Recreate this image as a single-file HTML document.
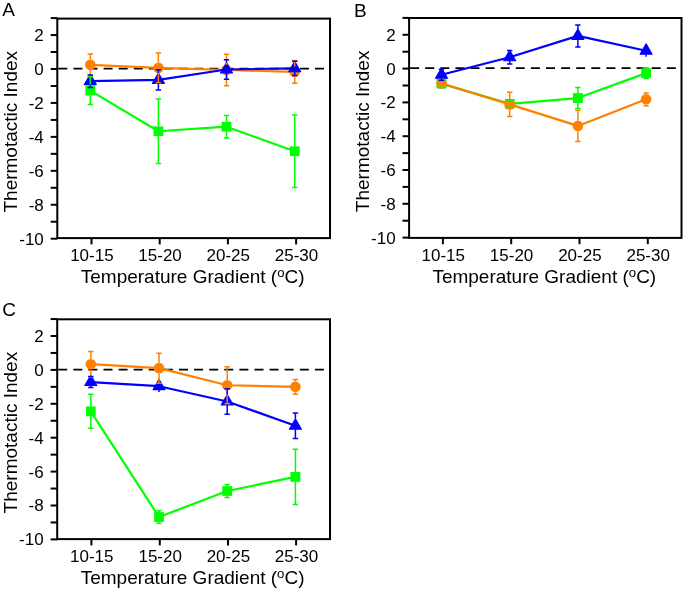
<!DOCTYPE html>
<html><head><meta charset="utf-8"><title>Thermotactic Index</title>
<style>
html,body{margin:0;padding:0;background:#fff;}
body{width:685px;height:591px;overflow:hidden;}
svg{display:block;font-family:"Liberation Sans",sans-serif;will-change:transform;}
</style></head>
<body>
<svg width="685" height="591" viewBox="0 0 685 591">
<rect width="685" height="591" fill="#fff"/>
<text x="2.3" y="16" font-size="19">A</text>
<line x1="58.3" y1="68.7" x2="329" y2="68.7" stroke="#000" stroke-width="1.8" stroke-dasharray="9 6.1"/>
<rect x="57.3" y="18.6" width="272.7" height="219.5" fill="none" stroke="#000" stroke-width="2.0"/>
<line x1="50.7" y1="18.09" x2="57.3" y2="18.09" stroke="#000" stroke-width="2.0"/>
<line x1="50.7" y1="35.06" x2="57.3" y2="35.06" stroke="#000" stroke-width="2.0"/>
<text x="43.8" y="40.96" font-size="17" text-anchor="end">2</text>
<line x1="50.7" y1="52.03" x2="57.3" y2="52.03" stroke="#000" stroke-width="2.0"/>
<line x1="50.7" y1="69" x2="57.3" y2="69" stroke="#000" stroke-width="2.0"/>
<text x="43.8" y="74.9" font-size="17" text-anchor="end">0</text>
<line x1="50.7" y1="85.97" x2="57.3" y2="85.97" stroke="#000" stroke-width="2.0"/>
<line x1="50.7" y1="102.94" x2="57.3" y2="102.94" stroke="#000" stroke-width="2.0"/>
<text x="43.8" y="108.84" font-size="17" text-anchor="end">-2</text>
<line x1="50.7" y1="119.91" x2="57.3" y2="119.91" stroke="#000" stroke-width="2.0"/>
<line x1="50.7" y1="136.88" x2="57.3" y2="136.88" stroke="#000" stroke-width="2.0"/>
<text x="43.8" y="142.78" font-size="17" text-anchor="end">-4</text>
<line x1="50.7" y1="153.85" x2="57.3" y2="153.85" stroke="#000" stroke-width="2.0"/>
<line x1="50.7" y1="170.82" x2="57.3" y2="170.82" stroke="#000" stroke-width="2.0"/>
<text x="43.8" y="176.72" font-size="17" text-anchor="end">-6</text>
<line x1="50.7" y1="187.79" x2="57.3" y2="187.79" stroke="#000" stroke-width="2.0"/>
<line x1="50.7" y1="204.76" x2="57.3" y2="204.76" stroke="#000" stroke-width="2.0"/>
<text x="43.8" y="210.66" font-size="17" text-anchor="end">-8</text>
<line x1="50.7" y1="221.73" x2="57.3" y2="221.73" stroke="#000" stroke-width="2.0"/>
<line x1="50.7" y1="238.7" x2="57.3" y2="238.7" stroke="#000" stroke-width="2.0"/>
<text x="43.8" y="244.6" font-size="17" text-anchor="end">-10</text>
<line x1="91.5" y1="238.1" x2="91.5" y2="244.4" stroke="#000" stroke-width="2.0"/>
<text x="91.9" y="261.1" font-size="17" text-anchor="middle">10-15</text>
<line x1="159.7" y1="238.1" x2="159.7" y2="244.4" stroke="#000" stroke-width="2.0"/>
<text x="160.1" y="261.1" font-size="17" text-anchor="middle">15-20</text>
<line x1="227.9" y1="238.1" x2="227.9" y2="244.4" stroke="#000" stroke-width="2.0"/>
<text x="228.3" y="261.1" font-size="17" text-anchor="middle">20-25</text>
<line x1="296.1" y1="238.1" x2="296.1" y2="244.4" stroke="#000" stroke-width="2.0"/>
<text x="296.5" y="261.1" font-size="17" text-anchor="middle">25-30</text>
<text x="192.65" y="283.1" font-size="19" text-anchor="middle">Temperature Gradient (<tspan font-size="13.2" dy="-6.2">o</tspan><tspan dy="6.2">C)</tspan></text>
<text transform="translate(17.2,131.75) rotate(-90)" x="0" y="0" font-size="19" text-anchor="middle">Thermotactic Index</text>
<polyline points="90.3,90.6 158.4,131.25 226.5,126.7 294.7,151.25" fill="none" stroke="#00ff00" stroke-width="2.2" stroke-linejoin="round"/>
<rect x="85.4" y="85.7" width="9.8" height="9.8" fill="#00ff00"/><rect x="153.5" y="126.35" width="9.8" height="9.8" fill="#00ff00"/><rect x="221.6" y="121.8" width="9.8" height="9.8" fill="#00ff00"/><rect x="289.8" y="146.35" width="9.8" height="9.8" fill="#00ff00"/>
<polyline points="90.3,64.8 158.4,67.8 226.5,70 294.7,71.8" fill="none" stroke="#ff7f00" stroke-width="2.2" stroke-linejoin="round"/>
<circle cx="90.3" cy="64.8" r="5.3" fill="#ff7f00"/><circle cx="158.4" cy="67.8" r="5.3" fill="#ff7f00"/><circle cx="226.5" cy="70" r="5.3" fill="#ff7f00"/><circle cx="294.7" cy="71.8" r="5.3" fill="#ff7f00"/>
<polyline points="90.3,81.15 158.4,79.9 226.5,69.5 294.7,68.3" fill="none" stroke="#0000ff" stroke-width="2.2" stroke-linejoin="round"/>
<path d="M90.3 74.22L96.3 84.62L84.3 84.62Z" fill="#0000ff" stroke="#0000ff" stroke-width="1.1" stroke-linejoin="round"/><path d="M158.4 72.97L164.4 83.37L152.4 83.37Z" fill="#0000ff" stroke="#0000ff" stroke-width="1.1" stroke-linejoin="round"/><path d="M226.5 62.57L232.5 72.97L220.5 72.97Z" fill="#0000ff" stroke="#0000ff" stroke-width="1.1" stroke-linejoin="round"/><path d="M294.7 61.37L300.7 71.77L288.7 71.77Z" fill="#0000ff" stroke="#0000ff" stroke-width="1.1" stroke-linejoin="round"/>
<path d="M90.3 76.8V85.7M90.3 95.5V104.4M87.6 76.8H93M87.6 104.4H93" stroke="#00ff00" stroke-width="1.5" fill="none"/><path d="M158.4 98.9V126.35M158.4 136.15V163.6M155.7 98.9H161.1M155.7 163.6H161.1" stroke="#00ff00" stroke-width="1.5" fill="none"/><path d="M226.5 115.5V121.8M226.5 131.6V137.9M223.8 115.5H229.2M223.8 137.9H229.2" stroke="#00ff00" stroke-width="1.5" fill="none"/><path d="M294.7 114.9V146.35M294.7 156.15V187.6M292 114.9H297.4M292 187.6H297.4" stroke="#00ff00" stroke-width="1.5" fill="none"/>
<path d="M90.3 54V59.5M90.3 70.1V75.6M87.6 54H93M87.6 75.6H93" stroke="#ff7f00" stroke-width="1.5" fill="none"/><path d="M158.4 52.9V62.5M158.4 73.1V82.7M155.7 52.9H161.1M155.7 82.7H161.1" stroke="#ff7f00" stroke-width="1.5" fill="none"/><path d="M226.5 54.3V64.7M226.5 75.3V85.7M223.8 54.3H229.2M223.8 85.7H229.2" stroke="#ff7f00" stroke-width="1.5" fill="none"/><path d="M294.7 60.4V66.5M294.7 77.1V83.2M292 60.4H297.4M292 83.2H297.4" stroke="#ff7f00" stroke-width="1.5" fill="none"/>
<path d="M90.3 84.62V87.4M87.6 74.9H93M87.6 87.4H93" stroke="#0000ff" stroke-width="1.5" fill="none"/><path d="M158.4 69.7V72.97M158.4 83.37V90.1M155.7 69.7H161.1M155.7 90.1H161.1" stroke="#0000ff" stroke-width="1.5" fill="none"/><path d="M226.5 59.85V62.57M226.5 72.97V79.15M223.8 59.85H229.2M223.8 79.15H229.2" stroke="#0000ff" stroke-width="1.5" fill="none"/><path d="M294.7 61.2V61.37M294.7 71.77V75.4M292 61.2H297.4M292 75.4H297.4" stroke="#0000ff" stroke-width="1.5" fill="none"/>
<text x="354" y="16.5" font-size="19">B</text>
<line x1="410.1" y1="68.1" x2="680.5" y2="68.1" stroke="#000" stroke-width="1.8" stroke-dasharray="9 6.1"/>
<rect x="409.1" y="18" width="272.4" height="219.9" fill="none" stroke="#000" stroke-width="2.0"/>
<line x1="402.5" y1="17.9" x2="409.1" y2="17.9" stroke="#000" stroke-width="2.0"/>
<line x1="402.5" y1="34.8" x2="409.1" y2="34.8" stroke="#000" stroke-width="2.0"/>
<text x="395.6" y="40.7" font-size="17" text-anchor="end">2</text>
<line x1="402.5" y1="51.7" x2="409.1" y2="51.7" stroke="#000" stroke-width="2.0"/>
<line x1="402.5" y1="68.6" x2="409.1" y2="68.6" stroke="#000" stroke-width="2.0"/>
<text x="395.6" y="74.5" font-size="17" text-anchor="end">0</text>
<line x1="402.5" y1="85.5" x2="409.1" y2="85.5" stroke="#000" stroke-width="2.0"/>
<line x1="402.5" y1="102.4" x2="409.1" y2="102.4" stroke="#000" stroke-width="2.0"/>
<text x="395.6" y="108.3" font-size="17" text-anchor="end">-2</text>
<line x1="402.5" y1="119.3" x2="409.1" y2="119.3" stroke="#000" stroke-width="2.0"/>
<line x1="402.5" y1="136.2" x2="409.1" y2="136.2" stroke="#000" stroke-width="2.0"/>
<text x="395.6" y="142.1" font-size="17" text-anchor="end">-4</text>
<line x1="402.5" y1="153.1" x2="409.1" y2="153.1" stroke="#000" stroke-width="2.0"/>
<line x1="402.5" y1="170" x2="409.1" y2="170" stroke="#000" stroke-width="2.0"/>
<text x="395.6" y="175.9" font-size="17" text-anchor="end">-6</text>
<line x1="402.5" y1="186.9" x2="409.1" y2="186.9" stroke="#000" stroke-width="2.0"/>
<line x1="402.5" y1="203.8" x2="409.1" y2="203.8" stroke="#000" stroke-width="2.0"/>
<text x="395.6" y="209.7" font-size="17" text-anchor="end">-8</text>
<line x1="402.5" y1="220.7" x2="409.1" y2="220.7" stroke="#000" stroke-width="2.0"/>
<line x1="402.5" y1="237.6" x2="409.1" y2="237.6" stroke="#000" stroke-width="2.0"/>
<text x="395.6" y="243.5" font-size="17" text-anchor="end">-10</text>
<line x1="442.9" y1="237.9" x2="442.9" y2="244.2" stroke="#000" stroke-width="2.0"/>
<text x="443.3" y="260.9" font-size="17" text-anchor="middle">10-15</text>
<line x1="511.2" y1="237.9" x2="511.2" y2="244.2" stroke="#000" stroke-width="2.0"/>
<text x="511.6" y="260.9" font-size="17" text-anchor="middle">15-20</text>
<line x1="579.5" y1="237.9" x2="579.5" y2="244.2" stroke="#000" stroke-width="2.0"/>
<text x="579.9" y="260.9" font-size="17" text-anchor="middle">20-25</text>
<line x1="647.8" y1="237.9" x2="647.8" y2="244.2" stroke="#000" stroke-width="2.0"/>
<text x="648.2" y="260.9" font-size="17" text-anchor="middle">25-30</text>
<text x="544.3" y="282.9" font-size="19" text-anchor="middle">Temperature Gradient (<tspan font-size="13.2" dy="-6.2">o</tspan><tspan dy="6.2">C)</tspan></text>
<text transform="translate(369,131.35) rotate(-90)" x="0" y="0" font-size="19" text-anchor="middle">Thermotactic Index</text>
<polyline points="441.5,83.6 509.7,103.8 577.9,98.05 646.1,73.1" fill="none" stroke="#00ff00" stroke-width="2.2" stroke-linejoin="round"/>
<rect x="436.6" y="78.7" width="9.8" height="9.8" fill="#00ff00"/><rect x="504.8" y="98.9" width="9.8" height="9.8" fill="#00ff00"/><rect x="573" y="93.15" width="9.8" height="9.8" fill="#00ff00"/><rect x="641.2" y="68.2" width="9.8" height="9.8" fill="#00ff00"/>
<polyline points="441.5,83.5 509.7,104.4 577.9,125.9 646.1,99.3" fill="none" stroke="#ff7f00" stroke-width="2.2" stroke-linejoin="round"/>
<circle cx="441.5" cy="83.5" r="5.3" fill="#ff7f00"/><circle cx="509.7" cy="104.4" r="5.3" fill="#ff7f00"/><circle cx="577.9" cy="125.9" r="5.3" fill="#ff7f00"/><circle cx="646.1" cy="99.3" r="5.3" fill="#ff7f00"/>
<polyline points="441.5,74.8 509.7,57.25 577.9,35.9 646.1,50.8" fill="none" stroke="#0000ff" stroke-width="2.2" stroke-linejoin="round"/>
<path d="M441.5 67.87L447.5 78.27L435.5 78.27Z" fill="#0000ff" stroke="#0000ff" stroke-width="1.1" stroke-linejoin="round"/><path d="M509.7 50.32L515.7 60.72L503.7 60.72Z" fill="#0000ff" stroke="#0000ff" stroke-width="1.1" stroke-linejoin="round"/><path d="M577.9 28.97L583.9 39.37L571.9 39.37Z" fill="#0000ff" stroke="#0000ff" stroke-width="1.1" stroke-linejoin="round"/><path d="M646.1 43.87L652.1 54.27L640.1 54.27Z" fill="#0000ff" stroke="#0000ff" stroke-width="1.1" stroke-linejoin="round"/>
<path d="M438.8 80.6H444.2M438.8 86.6H444.2" stroke="#00ff00" stroke-width="1.5" fill="none"/><path d="M507 100.3H512.4M507 107.3H512.4" stroke="#00ff00" stroke-width="1.5" fill="none"/><path d="M577.9 87.55V93.15M577.9 102.95V108.55M575.2 87.55H580.6M575.2 108.55H580.6" stroke="#00ff00" stroke-width="1.5" fill="none"/><path d="M646.1 67.8V68.2M646.1 78V78.4M643.4 67.8H648.8M643.4 78.4H648.8" stroke="#00ff00" stroke-width="1.5" fill="none"/>
<path d="M438.8 79.5H444.2M438.8 87.5H444.2" stroke="#ff7f00" stroke-width="1.5" fill="none"/><path d="M509.7 92.2V99.1M509.7 109.7V116.6M507 92.2H512.4M507 116.6H512.4" stroke="#ff7f00" stroke-width="1.5" fill="none"/><path d="M577.9 110.25V120.6M577.9 131.2V141.55M575.2 110.25H580.6M575.2 141.55H580.6" stroke="#ff7f00" stroke-width="1.5" fill="none"/><path d="M646.1 92.9V94M646.1 104.6V105.7M643.4 92.9H648.8M643.4 105.7H648.8" stroke="#ff7f00" stroke-width="1.5" fill="none"/>
<path d="M441.5 78.27V80.3M438.8 69.3H444.2M438.8 80.3H444.2" stroke="#0000ff" stroke-width="1.5" fill="none"/><path d="M509.7 60.72V64M507 50.5H512.4M507 64H512.4" stroke="#0000ff" stroke-width="1.5" fill="none"/><path d="M577.9 24.9V28.97M577.9 39.37V46.9M575.2 24.9H580.6M575.2 46.9H580.6" stroke="#0000ff" stroke-width="1.5" fill="none"/><path d="M646.1 54.27V56.8" stroke="#0000ff" stroke-width="1.5" fill="none"/>
<text x="2.3" y="315.5" font-size="19">C</text>
<line x1="58.2" y1="369.6" x2="329" y2="369.6" stroke="#000" stroke-width="1.8" stroke-dasharray="9 6.1"/>
<rect x="57.2" y="319.3" width="272.8" height="219.8" fill="none" stroke="#000" stroke-width="2.0"/>
<line x1="50.6" y1="319.05" x2="57.2" y2="319.05" stroke="#000" stroke-width="2.0"/>
<line x1="50.6" y1="336" x2="57.2" y2="336" stroke="#000" stroke-width="2.0"/>
<text x="43.7" y="341.9" font-size="17" text-anchor="end">2</text>
<line x1="50.6" y1="352.95" x2="57.2" y2="352.95" stroke="#000" stroke-width="2.0"/>
<line x1="50.6" y1="369.9" x2="57.2" y2="369.9" stroke="#000" stroke-width="2.0"/>
<text x="43.7" y="375.8" font-size="17" text-anchor="end">0</text>
<line x1="50.6" y1="386.85" x2="57.2" y2="386.85" stroke="#000" stroke-width="2.0"/>
<line x1="50.6" y1="403.8" x2="57.2" y2="403.8" stroke="#000" stroke-width="2.0"/>
<text x="43.7" y="409.7" font-size="17" text-anchor="end">-2</text>
<line x1="50.6" y1="420.75" x2="57.2" y2="420.75" stroke="#000" stroke-width="2.0"/>
<line x1="50.6" y1="437.7" x2="57.2" y2="437.7" stroke="#000" stroke-width="2.0"/>
<text x="43.7" y="443.6" font-size="17" text-anchor="end">-4</text>
<line x1="50.6" y1="454.65" x2="57.2" y2="454.65" stroke="#000" stroke-width="2.0"/>
<line x1="50.6" y1="471.6" x2="57.2" y2="471.6" stroke="#000" stroke-width="2.0"/>
<text x="43.7" y="477.5" font-size="17" text-anchor="end">-6</text>
<line x1="50.6" y1="488.55" x2="57.2" y2="488.55" stroke="#000" stroke-width="2.0"/>
<line x1="50.6" y1="505.5" x2="57.2" y2="505.5" stroke="#000" stroke-width="2.0"/>
<text x="43.7" y="511.4" font-size="17" text-anchor="end">-8</text>
<line x1="50.6" y1="522.45" x2="57.2" y2="522.45" stroke="#000" stroke-width="2.0"/>
<line x1="50.6" y1="539.4" x2="57.2" y2="539.4" stroke="#000" stroke-width="2.0"/>
<text x="43.7" y="545.3" font-size="17" text-anchor="end">-10</text>
<line x1="91.4" y1="539.1" x2="91.4" y2="545.4" stroke="#000" stroke-width="2.0"/>
<text x="91.8" y="562.1" font-size="17" text-anchor="middle">10-15</text>
<line x1="159.8" y1="539.1" x2="159.8" y2="545.4" stroke="#000" stroke-width="2.0"/>
<text x="160.2" y="562.1" font-size="17" text-anchor="middle">15-20</text>
<line x1="228" y1="539.1" x2="228" y2="545.4" stroke="#000" stroke-width="2.0"/>
<text x="228.4" y="562.1" font-size="17" text-anchor="middle">20-25</text>
<line x1="296.1" y1="539.1" x2="296.1" y2="545.4" stroke="#000" stroke-width="2.0"/>
<text x="296.5" y="562.1" font-size="17" text-anchor="middle">25-30</text>
<text x="192.6" y="584.1" font-size="19" text-anchor="middle">Temperature Gradient (<tspan font-size="13.2" dy="-6.2">o</tspan><tspan dy="6.2">C)</tspan></text>
<text transform="translate(17.1,432.6) rotate(-90)" x="0" y="0" font-size="19" text-anchor="middle">Thermotactic Index</text>
<polyline points="90.8,411.35 159,517 227.2,491 295.4,476.9" fill="none" stroke="#00ff00" stroke-width="2.2" stroke-linejoin="round"/>
<rect x="85.9" y="406.45" width="9.8" height="9.8" fill="#00ff00"/><rect x="154.1" y="512.1" width="9.8" height="9.8" fill="#00ff00"/><rect x="222.3" y="486.1" width="9.8" height="9.8" fill="#00ff00"/><rect x="290.5" y="472" width="9.8" height="9.8" fill="#00ff00"/>
<polyline points="90.8,364.2 159,368.15 227.2,385.25 295.4,386.85" fill="none" stroke="#ff7f00" stroke-width="2.2" stroke-linejoin="round"/>
<circle cx="90.8" cy="364.2" r="5.3" fill="#ff7f00"/><circle cx="159" cy="368.15" r="5.3" fill="#ff7f00"/><circle cx="227.2" cy="385.25" r="5.3" fill="#ff7f00"/><circle cx="295.4" cy="386.85" r="5.3" fill="#ff7f00"/>
<polyline points="90.8,382.1 159,386.2 227.2,401.5 295.4,425.7" fill="none" stroke="#0000ff" stroke-width="2.2" stroke-linejoin="round"/>
<path d="M90.8 375.17L96.8 385.57L84.8 385.57Z" fill="#0000ff" stroke="#0000ff" stroke-width="1.1" stroke-linejoin="round"/><path d="M159 379.27L165 389.67L153 389.67Z" fill="#0000ff" stroke="#0000ff" stroke-width="1.1" stroke-linejoin="round"/><path d="M227.2 394.57L233.2 404.97L221.2 404.97Z" fill="#0000ff" stroke="#0000ff" stroke-width="1.1" stroke-linejoin="round"/><path d="M295.4 418.77L301.4 429.17L289.4 429.17Z" fill="#0000ff" stroke="#0000ff" stroke-width="1.1" stroke-linejoin="round"/>
<path d="M90.8 394.35V406.45M90.8 416.25V428.35M88.1 394.35H93.5M88.1 428.35H93.5" stroke="#00ff00" stroke-width="1.5" fill="none"/><path d="M159 510.7V512.1M159 521.9V523.3M156.3 510.7H161.7M156.3 523.3H161.7" stroke="#00ff00" stroke-width="1.5" fill="none"/><path d="M227.2 484.6V486.1M227.2 495.9V497.4M224.5 484.6H229.9M224.5 497.4H229.9" stroke="#00ff00" stroke-width="1.5" fill="none"/><path d="M295.4 449.3V472M295.4 481.8V504.5M292.7 449.3H298.1M292.7 504.5H298.1" stroke="#00ff00" stroke-width="1.5" fill="none"/>
<path d="M90.8 351.4V358.9M90.8 369.5V377M88.1 351.4H93.5M88.1 377H93.5" stroke="#ff7f00" stroke-width="1.5" fill="none"/><path d="M159 353.15V362.85M159 373.45V383.15M156.3 353.15H161.7M156.3 383.15H161.7" stroke="#ff7f00" stroke-width="1.5" fill="none"/><path d="M227.2 366.85V379.95M227.2 390.55V403.65M224.5 366.85H229.9M224.5 403.65H229.9" stroke="#ff7f00" stroke-width="1.5" fill="none"/><path d="M295.4 379.4V381.55M295.4 392.15V394.3M292.7 379.4H298.1M292.7 394.3H298.1" stroke="#ff7f00" stroke-width="1.5" fill="none"/>
<path d="M90.8 385.57V387.6M88.1 376.6H93.5M88.1 387.6H93.5" stroke="#0000ff" stroke-width="1.5" fill="none"/><path d="M159 389.67V391.9" stroke="#0000ff" stroke-width="1.5" fill="none"/><path d="M227.2 388.8V394.57M227.2 404.97V414.2M224.5 388.8H229.9M224.5 414.2H229.9" stroke="#0000ff" stroke-width="1.5" fill="none"/><path d="M295.4 412.9V418.77M295.4 429.17V438.5M292.7 412.9H298.1M292.7 438.5H298.1" stroke="#0000ff" stroke-width="1.5" fill="none"/>
</svg>
</body></html>
